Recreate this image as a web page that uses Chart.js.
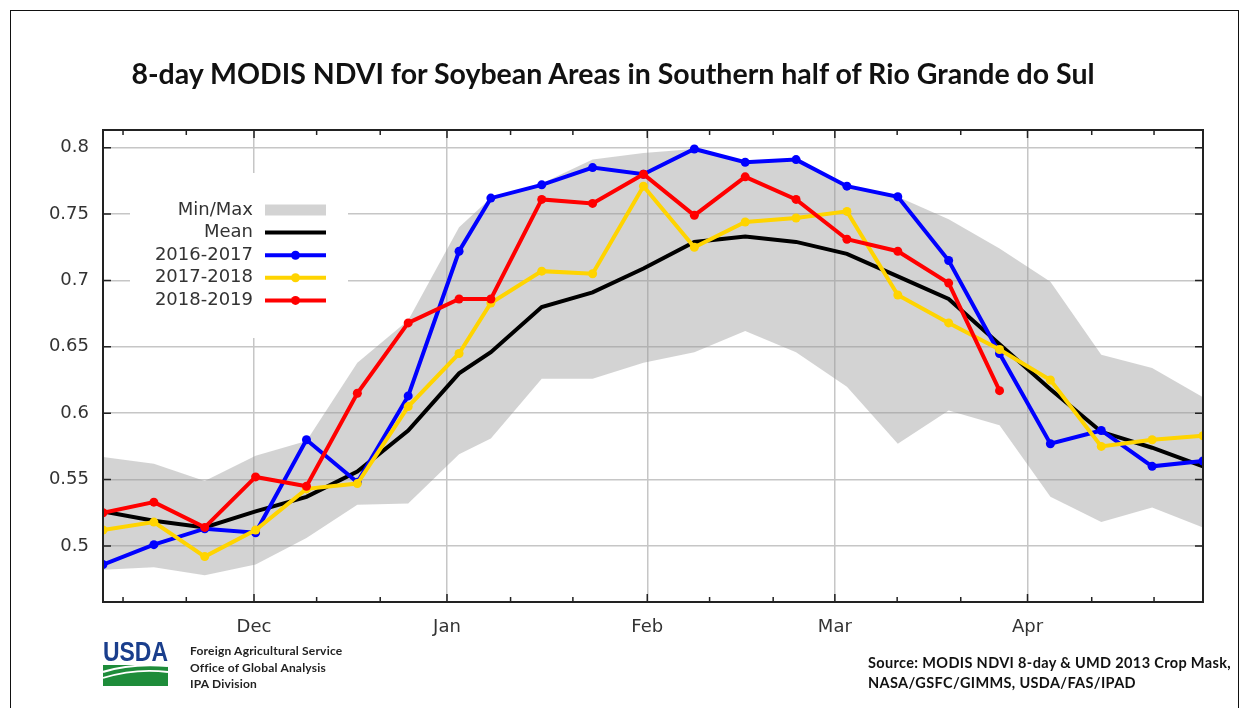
<!DOCTYPE html>
<html>
<head>
<meta charset="utf-8">
<script src="https://cdn.jsdelivr.net/npm/chart.js@4.4.1/dist/chart.umd.min.js"></script>
<style>
    html, body { margin: 0; padding: 0; background: #fff; }
    body { width: 1248px; height: 708px; position: relative; overflow: hidden; font-family: Lato, "Open Sans", sans-serif; }
    #frame { position: absolute; left: 10px; top: 10px; width: 1229px; height: 740px; border: 1.5px solid #111; box-sizing: border-box; }
    #chart { position: absolute; left: 0; top: 0; }
    #title { position: absolute; left: 0; width: 1226px; top: 56px; text-align: center; font-weight: bold; font-size: 28.5px; color: #111; }
    #logo { position: absolute; left: 103px; top: 638px; }
    #fas { position: absolute; left: 190px; top: 643px; font-size: 12px; letter-spacing: 0.2px; font-weight: bold; line-height: 16.5px; color: #222; }
    #source { position: absolute; left: 868px; top: 653px; font-size: 14.5px; letter-spacing: 0.35px; font-weight: bold; line-height: 20px; color: #111; }
</style>
</head>
<body>
<div id="frame"></div>
<canvas id="chart" width="1248" height="708"></canvas>
<div id="title">8-day MODIS NDVI for Soybean Areas in Southern half of Rio Grande do Sul</div>
<svg id="logo" width="66" height="50" viewBox="0 0 66 50">
    <text x="0" y="23" font-family="'Liberation Sans Narrow', 'Liberation Sans', sans-serif" font-weight="bold" font-size="28" textLength="65" lengthAdjust="spacingAndGlyphs" fill="#1a3e8c">USDA</text>
    <rect x="0" y="27" width="65" height="21" fill="#1e8c3a"/>
    <path d="M0 34 Q 28 25 65 28" stroke="#fff" stroke-width="2.2" fill="none"/>
    <path d="M0 40 Q 32 30 65 34" stroke="#fff" stroke-width="1.8" fill="none"/>
</svg>
<div id="fas">Foreign Agricultural Service<br>Office of Global Analysis<br>IPA Division</div>
<div id="source">Source: MODIS NDVI 8-day &amp; UMD 2013 Crop Mask,<br>NASA/GSFC/GIMMS, USDA/FAS/IPAD</div>

<script>
// --- Data (days since first composite, 8-day steps, reset at Jan 1) ---
const compositeDays = [0, 8, 16, 24, 32, 40, 48, 56, 61, 69, 77, 85, 93, 101, 109, 117, 125, 133, 141, 149, 157, 165, 173];

const ndviMax  = [0.567, 0.562, 0.549, 0.568, 0.579, 0.638, 0.670, 0.740, 0.762, 0.773, 0.791, 0.796, 0.799, 0.790, 0.791, 0.771, 0.763, 0.746, 0.724, 0.699, 0.644, 0.634, 0.612];
const ndviMin  = [0.482, 0.484, 0.478, 0.486, 0.506, 0.531, 0.532, 0.569, 0.581, 0.626, 0.626, 0.638, 0.646, 0.662, 0.646, 0.620, 0.577, 0.602, 0.591, 0.537, 0.518, 0.529, 0.514];
const ndviMean = [0.526, 0.519, 0.514, 0.526, 0.537, 0.556, 0.587, 0.630, 0.646, 0.680, 0.691, 0.709, 0.729, 0.733, 0.729, 0.720, 0.703, 0.686, 0.652, 0.618, 0.586, 0.574, 0.560];
const ndvi2016 = [0.486, 0.501, 0.513, 0.510, 0.580, 0.548, 0.613, 0.722, 0.762, 0.772, 0.785, 0.780, 0.799, 0.789, 0.791, 0.771, 0.763, 0.715, 0.645, 0.577, 0.587, 0.560, 0.564];
const ndvi2017 = [0.512, 0.518, 0.492, 0.512, 0.543, 0.547, 0.605, 0.645, 0.683, 0.707, 0.705, 0.771, 0.725, 0.744, 0.747, 0.752, 0.689, 0.668, 0.648, 0.625, 0.575, 0.580, 0.583];
const ndvi2018 = [0.525, 0.533, 0.514, 0.552, 0.545, 0.615, 0.668, 0.686, 0.686, 0.761, 0.758, 0.780, 0.749, 0.778, 0.761, 0.731, 0.722, 0.698, 0.617];

// axis ticks
const monthDays   = [23.75, 54.1, 85.6, 115.1, 145.4];
const monthLabels = ['Dec', 'Jan', 'Feb', 'Mar', 'Apr'];
const minorDays   = [3.15, 13.1, 33.6, 43.6, 64.1, 73.9, 95.4, 105.4, 124.9, 134.9, 155.5, 165.3];
const yTicks      = [0.5, 0.55, 0.6, 0.65, 0.7, 0.75, 0.8];
const yTickLabels = ['0.5', '0.55', '0.6', '0.65', '0.7', '0.75', '0.8'];

const toPoints = vals => vals.map((v, i) => ({ x: compositeDays[i], y: v }));

const BAND = 'rgba(150, 150, 150, 0.42)';
const series = [
    { label: '2018-2019', data: ndvi2018, color: '#ff0000', order: 1 },
    { label: '2017-2018', data: ndvi2017, color: '#ffd400', order: 2 },
    { label: '2016-2017', data: ndvi2016, color: '#0000ff', order: 3 },
];

const datasets = series.map(s => ({
    label: s.label,
    data: toPoints(s.data),
    borderColor: s.color,
    backgroundColor: s.color,
    borderWidth: 4,
    pointRadius: 4.5,
    pointBorderWidth: 0,
    pointBackgroundColor: s.color,
    tension: 0,
    fill: false,
    order: s.order
}));
datasets.push({
    label: 'Mean', data: toPoints(ndviMean), borderColor: '#000', borderWidth: 4,
    pointRadius: 0, tension: 0, fill: false, order: 4
});
datasets.push({
    label: 'Max', data: toPoints(ndviMax), borderWidth: 0, pointRadius: 0,
    backgroundColor: BAND, fill: '+1', order: 5
});
datasets.push({
    label: 'Min', data: toPoints(ndviMin), borderWidth: 0, pointRadius: 0,
    fill: false, order: 6
});

// --- Frame, inward ticks and inset legend ---
const legendItems = [
    { label: 'Min/Max', band: true },
    { label: 'Mean', color: '#000' },
    { label: '2016-2017', color: '#0000ff', marker: true },
    { label: '2017-2018', color: '#ffd400', marker: true },
    { label: '2018-2019', color: '#ff0000', marker: true }
];

const decorPlugin = {
    id: 'decor',
    beforeDatasetsDraw(chart) {
        const ctx = chart.ctx;
        const a = chart.chartArea;
        ctx.save();
        // legend backdrop hides grid lines
        ctx.fillStyle = '#fff';
        ctx.fillRect(a.left + 27, a.top + 43, 218, 165);
        ctx.font = '18px "DejaVu Sans", sans-serif';
        ctx.textAlign = 'right';
        ctx.textBaseline = 'middle';
        legendItems.forEach((it, i) => {
            const y = a.top + 80 + i * 22.6;
            ctx.fillStyle = '#333';
            ctx.fillText(it.label, a.left + 150, y);
            const x0 = a.left + 162, x1 = a.left + 223;
            if (it.band) {
                ctx.fillStyle = '#d3d3d3';
                ctx.fillRect(x0, y - 5.5, x1 - x0, 11);
            } else {
                ctx.strokeStyle = it.color;
                ctx.lineWidth = 4;
                ctx.beginPath();
                ctx.moveTo(x0, y);
                ctx.lineTo(x1, y);
                ctx.stroke();
                if (it.marker) {
                    ctx.fillStyle = it.color;
                    ctx.beginPath();
                    ctx.arc((x0 + x1) / 2, y, 4.5, 0, Math.PI * 2);
                    ctx.fill();
                }
            }
        });
        ctx.restore();
    },
    afterDraw(chart) {
        const ctx = chart.ctx;
        const a = chart.chartArea;
        const xs = chart.scales.x, ys = chart.scales.y;
        ctx.save();
        ctx.strokeStyle = '#222';
        ctx.lineWidth = 1.5;
        ctx.beginPath();
        monthDays.forEach(d => {
            const px = xs.getPixelForValue(d);
            ctx.moveTo(px, a.bottom); ctx.lineTo(px, a.bottom - 8);
            ctx.moveTo(px, a.top); ctx.lineTo(px, a.top + 8);
        });
        minorDays.forEach(d => {
            const px = xs.getPixelForValue(d);
            ctx.moveTo(px, a.bottom); ctx.lineTo(px, a.bottom - 5);
            ctx.moveTo(px, a.top); ctx.lineTo(px, a.top + 5);
        });
        yTicks.forEach(v => {
            const py = ys.getPixelForValue(v);
            ctx.moveTo(a.left, py); ctx.lineTo(a.left + 8, py);
            ctx.moveTo(a.right, py); ctx.lineTo(a.right - 8, py);
        });
        ctx.stroke();
        ctx.lineWidth = 2;
        ctx.strokeRect(a.left, a.top, a.right - a.left, a.bottom - a.top);
        ctx.restore();
    }
};

new Chart(document.getElementById('chart'), {
    type: 'line',
    data: { datasets },
    options: {
        responsive: false,
        animation: false,
        devicePixelRatio: 1,
        layout: { padding: { left: 0, right: 45, top: 130, bottom: 66 } },
        plugins: { legend: { display: false }, tooltip: { enabled: false }, title: { display: false } },
        scales: {
            x: {
                type: 'linear',
                min: 0,
                max: 173,
                afterBuildTicks: s => { s.ticks = monthDays.map(v => ({ value: v })); },
                afterFit: s => { s.height = 40; },
                ticks: {
                    autoSkip: false,
                    maxRotation: 0,
                    padding: 15,
                    color: '#333',
                    font: { family: '"DejaVu Sans", sans-serif', size: 18 },
                    callback: (v, i) => monthLabels[i]
                },
                grid: { color: '#c6c6c6', lineWidth: 1.5, drawTicks: false },
                border: { display: false }
            },
            y: {
                min: 0.4578,
                max: 0.8133,
                afterBuildTicks: s => { s.ticks = yTicks.map(v => ({ value: v })); },
                afterFit: s => { s.width = 103; },
                ticks: {
                    padding: 14,
                    color: '#333',
                    font: { family: '"DejaVu Sans", sans-serif', size: 18 },
                    callback: (v, i) => yTickLabels[i]
                },
                grid: { color: '#c6c6c6', lineWidth: 1.5, drawTicks: false },
                border: { display: false }
            }
        }
    },
    plugins: [decorPlugin]
});
</script>
</body>
</html>
